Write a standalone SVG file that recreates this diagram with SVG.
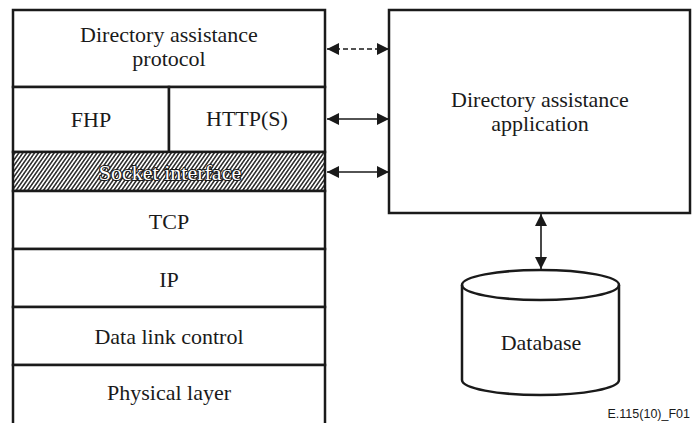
<svg xmlns="http://www.w3.org/2000/svg" width="692" height="423" viewBox="0 0 692 423">
<style>
.box{fill:#fff;stroke:#1a1a1a;stroke-width:2.5}
.ln{stroke:#1a1a1a;stroke-width:2.5;fill:none}
.t{font-size:22px;fill:#1a1a1a;text-anchor:middle}
.so{fill:#fff;stroke:#1a1a1a;stroke-width:2.2;paint-order:stroke;stroke-linejoin:round}
.c{stroke:#1a1a1a;stroke-width:1.6;fill:none}
.d{stroke-dasharray:5 3}
</style>
<defs>
<pattern id="hatch" width="3.2" height="3.2" patternUnits="userSpaceOnUse" patternTransform="rotate(35)">
<rect width="3.2" height="3.2" fill="#fff"/>
<rect width="1.6" height="3.2" fill="#333"/>
</pattern>
<marker id="ah" viewBox="0 0 12 12" refX="12" refY="6" markerWidth="12" markerHeight="12" markerUnits="userSpaceOnUse" orient="auto-start-reverse">
<path d="M0,0 L12,6 L0,12 Z" fill="#1a1a1a"/>
</marker>
</defs>
<g font-family="Liberation Serif, Times New Roman, DejaVu Serif, serif">
<g id="stack">
<g id="proto"><rect class="box" x="13" y="10" width="312" height="77"/><text class="t" x="169" y="42">Directory assistance</text><text class="t" x="169" y="65.5">protocol</text></g>
<g id="fhp"><rect class="box" x="13" y="87" width="156" height="65"/><text class="t" x="91" y="127">FHP</text></g>
<g id="http"><rect class="box" x="169" y="87" width="156" height="65"/><text class="t" x="247" y="126">HTTP(S)</text></g>
<g id="socket"><rect class="box" x="13" y="152" width="312" height="39" style="fill:url(#hatch)"/><text class="t so" x="170" y="180">Socket interface</text></g>
<g id="tcp"><rect class="box" x="13" y="191" width="312" height="58"/><text class="t" x="169" y="229">TCP</text></g>
<g id="ip"><rect class="box" x="13" y="249" width="312" height="58"/><text class="t" x="169" y="287">IP</text></g>
<g id="dlc"><rect class="box" x="13" y="307" width="312" height="58"/><text class="t" x="169" y="344">Data link control</text></g>
<g id="phys"><rect class="box" x="13" y="365" width="312" height="62"/><text class="t" x="169" y="400">Physical layer</text></g>
</g>
<g id="app"><rect class="box" x="389" y="10" width="301" height="203"/><text class="t" x="540" y="107">Directory assistance</text><text class="t" x="540" y="130.5">application</text></g>
<g id="db">
<path class="ln" d="M462,285 L462,380 A78.5,15 0 0 0 619,380 L619,285" fill="#fff"/>
<ellipse class="ln" cx="540.5" cy="285" rx="78.5" ry="15" fill="#fff"/>
<text class="t" x="541" y="350">Database</text>
</g>
</g>
<g id="connectors">
<line class="c d" x1="327" y1="49" x2="389" y2="49" marker-start="url(#ah)" marker-end="url(#ah)"/>
<line class="c" x1="327" y1="119" x2="389" y2="119" marker-start="url(#ah)" marker-end="url(#ah)"/>
<line class="c" x1="327" y1="172" x2="389" y2="172" marker-start="url(#ah)" marker-end="url(#ah)"/>
<line class="c" x1="541" y1="214" x2="541" y2="269" marker-start="url(#ah)" marker-end="url(#ah)"/>
</g>
<text x="690" y="418" text-anchor="end" font-family="Liberation Sans, Arial, sans-serif" font-size="12.5" fill="#1a1a1a">E.115(10)_F01</text>
</svg>
